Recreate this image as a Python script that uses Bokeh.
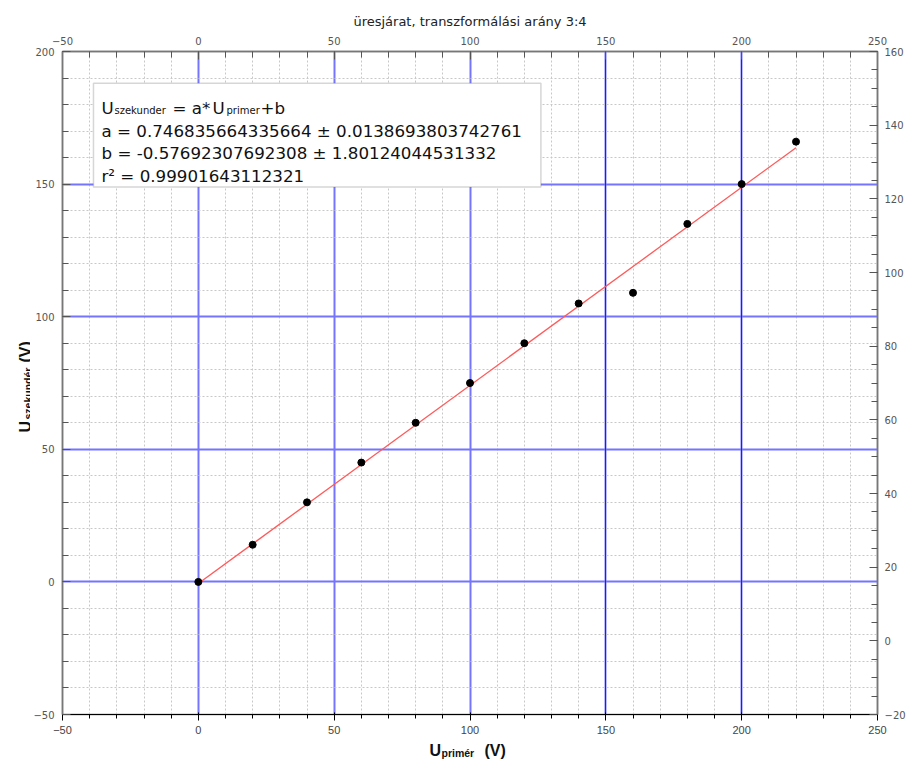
import numpy as np
from math import pi
from bokeh.plotting import figure
from bokeh.models import (LinearAxis, Range1d, SingleIntervalTicker, FixedTicker,
                          Label, BoxAnnotation, Grid)
from bokeh.layouts import column, row
from bokeh.core.properties import value
from bokeh.embed import file_html
from bokeh.resources import INLINE

# ---- data ----
title_text = "üresjárat, transzformálási arány 3:4"
u_primer = [0, 20, 40, 60, 80, 100, 120, 140, 160, 180, 200, 220]
u_szekunder = [0, 14, 30, 45, 60, 75, 90, 105, 109, 135, 150, 166]
fit_a = 0.746835664335664
fit_a_err = 0.0138693803742761
fit_b = -0.57692307692308
fit_b_err = 1.80124044531332
fit_r2 = 0.99901643112321
x_limits = (-50, 250)
y_limits = (-50, 200)
y2_limits = (-20, 160)
dark_grid_x = [150, 200]

# ---- layout sizes (page pixels) ----
W, H = 909, 760
LEFT_W = 30
BOTTOM_H = 24
PW, PH = W - LEFT_W, H - BOTTOM_H
FRAME_TOP, FRAME_BOTTOM = 51, 714

p = figure(width=PW, height=PH,
           x_range=Range1d(*x_limits), y_range=Range1d(*y_limits),
           output_backend="svg", toolbar_location=None,
           min_border_left=61 - LEFT_W, min_border_right=32,
           min_border_top=FRAME_TOP, min_border_bottom=PH - FRAME_BOTTOM,
           background_fill_color="white", border_fill_color="white",
           outline_line_color="#777", outline_line_width=1.5)
p.extra_y_ranges = {"right": Range1d(*y2_limits)}

xt = SingleIntervalTicker(interval=50, num_minor_ticks=5)
yt = SingleIntervalTicker(interval=50, num_minor_ticks=5)
y2t = SingleIntervalTicker(interval=20, num_minor_ticks=4)

p.xaxis[0].ticker = xt
p.yaxis[0].ticker = yt
top_ax = LinearAxis(ticker=SingleIntervalTicker(interval=50, num_minor_ticks=5))
right_ax = LinearAxis(y_range_name="right", ticker=y2t)
p.add_layout(top_ax, "above")
p.add_layout(right_ax, "right")

for ax in [p.xaxis[0], p.yaxis[0], top_ax, right_ax]:
    ax.major_tick_in = 8
    ax.major_tick_out = 0
    ax.minor_tick_in = 6
    ax.minor_tick_out = 0
    ax.axis_line_color = "#777"
    ax.axis_line_width = 1.5
    ax.major_tick_line_color = "#555"
    ax.minor_tick_line_color = "#555"
    ax.major_label_text_font = "DejaVu Sans"
    ax.major_label_text_font_size = "10px"
    ax.major_label_text_color = "#555"
    ax.major_label_standoff = 7
    ax.axis_label_standoff = 0
p.yaxis[0].major_label_standoff = 8
top_ax.major_label_standoff = 7

p.title.text = title_text
p.title.align = "center"
p.title.text_font = "DejaVu Sans"
p.title.text_font_size = "13px"
p.title.text_font_style = "normal"
p.title.text_color = "#222"
p.title.standoff = 10

for g, t in [(p.xgrid[0], xt), (p.ygrid[0], yt)]:
    g.ticker = t
    g.grid_line_color = "#7474ff"
    g.grid_line_width = 2
    g.minor_grid_line_color = "#c8c8c8"
    g.minor_grid_line_dash = "2 2"
    g.minor_grid_line_width = 1
p.add_layout(Grid(dimension=0, ticker=FixedTicker(ticks=dark_grid_x),
                  grid_line_color="#1a1aff", grid_line_width=1))

# fit line and points
xf = np.array([min(u_primer), max(u_primer)], dtype=float)
yf = fit_a * xf + fit_b
p.line(xf, yf, line_color="#ff5a5a", line_width=1.3)
p.scatter(u_primer, u_szekunder, size=7, color="black")

# legend box
p.add_layout(BoxAnnotation(left=-38.6, right=126.1, top=188.0, bottom=148.9,
                           fill_color="white", fill_alpha=1.0,
                           line_color="#777", line_width=1.5))


def lab(text, dx, dy, size):
    return Label(x=x_limits[0], y=y_limits[1], x_offset=dx, y_offset=-dy, text=text,
                 text_font="DejaVu Sans", text_font_size=size,
                 text_baseline="alphabetic", text_align="left", text_color="#111")

LS = "16.7px"
SS = "10px"
legend_parts = [
    ("U", 39, 56, LS), ("szekunder", 52, 59, SS), ("= a*", 110, 56, LS),
    ("U", 150, 56, LS), ("primer", 164, 59, SS), ("+b", 198, 56, LS),
    (f"a = {fit_a!r} ± {fit_a_err!r}", 39, 79, LS),
    (f"b = {fit_b!r} ± {fit_b_err!r}", 39, 101, LS),
    (f"r² = {fit_r2!r}", 39, 124, LS),
]
for t, dx, dy, s in legend_parts:
    p.add_layout(lab(t, dx, dy, s))

AF = value("Liberation Sans")

# left axis label figure: its frame is aligned with the main frame (rows align frames)
FH = FRAME_BOTTOM - FRAME_TOP
left_fig = figure(width=LEFT_W, height=PH, title=None,
                  x_range=Range1d(0, LEFT_W), y_range=Range1d(0, FH),
                  x_axis_type=None, y_axis_type=None, toolbar_location=None,
                  output_backend="svg",
                  min_border_left=0, min_border_right=0,
                  min_border_top=FRAME_TOP, min_border_bottom=PH - FRAME_BOTTOM,
                  outline_line_color=None,
                  background_fill_color="white", border_fill_color="white")
# (text, baseline x, start y on page)
left_parts = [("U", 25, 432, "16px"), ("szekundér", 27, 419, "10.5px"), ("(V)", 25, 362, "16px")]
for t, bx, sy, s in left_parts:
    left_fig.text(x=[bx], y=[FRAME_BOTTOM - sy], text=[t], angle=pi / 2, text_font=AF,
                  text_font_size=s, text_font_style="bold", text_baseline="alphabetic",
                  text_align="left", text_color="#111")

# bottom axis label figure
bottom_fig = figure(frame_width=W, frame_height=BOTTOM_H, title=None,
                    x_range=Range1d(0, W), y_range=Range1d(0, BOTTOM_H),
                    x_axis_type=None, y_axis_type=None, toolbar_location=None,
                    output_backend="svg", min_border=0,
                    min_border_left=0, min_border_right=0, min_border_top=0, min_border_bottom=0,
                    outline_line_color=None,
                    background_fill_color="white", border_fill_color="white")
# (text, start x, baseline y on page)
bottom_parts = [("U", 429, 750, "16px"), ("primér", 441, 752, "10.5px"), ("(V)", 484, 750, "16px")]
for t, sx, by, s in bottom_parts:
    bottom_fig.text(x=[sx], y=[H - by], text=[t], text_font=AF,
                    text_font_size=s, text_font_style="bold", text_baseline="alphabetic",
                    text_align="left", text_color="#111")

layout = column(row(left_fig, p), bottom_fig)
open("out.html", "w").write(file_html(layout, INLINE))
